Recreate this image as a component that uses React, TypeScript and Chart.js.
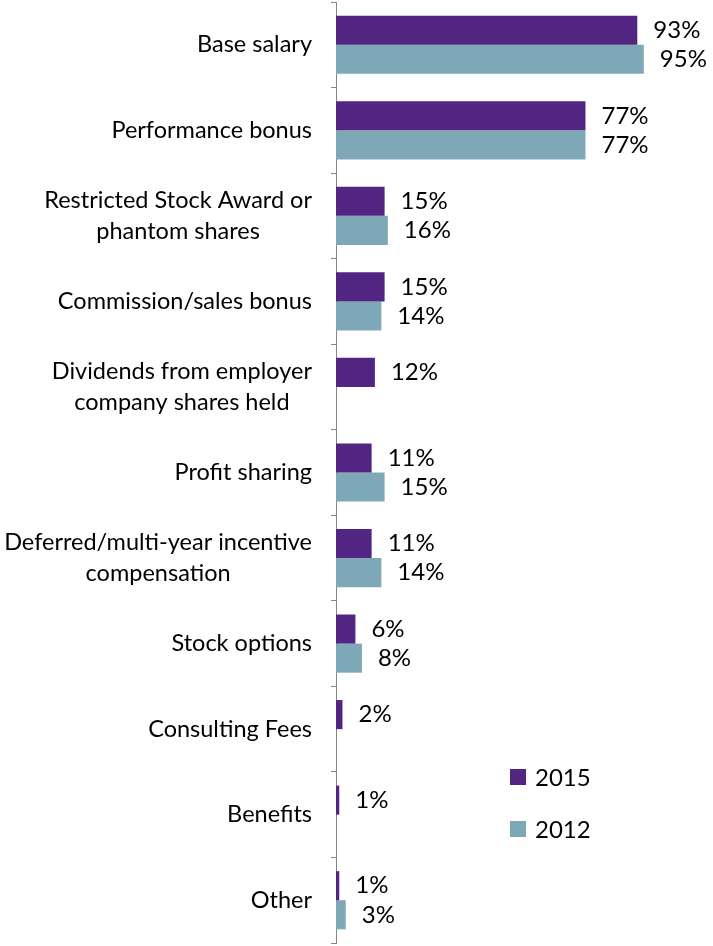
import React, { useEffect, useRef } from "react";
import { Chart, registerables } from "chart.js";

Chart.register(...registerables);

const categories: string[][] = [
  ["Base salary"],
  ["Performance bonus"],
  ["Restricted Stock Award or", "phantom shares"],
  ["Commission/sales bonus"],
  ["Dividends from employer", "company shares held"],
  ["Profit sharing"],
  ["Deferred/multi-year incentive", "compensation"],
  ["Stock options"],
  ["Consulting Fees"],
  ["Benefits"],
  ["Other"],
];
const values2015: (number | null)[] = [93, 77, 15, 15, 12, 11, 11, 6, 2, 1, 1];
const values2012: (number | null)[] = [95, 77, 16, 14, null, 15, 14, 8, null, null, 3];
const seriesNames = ["2015", "2012"];
const seriesColors = ["#522583", "#7EA8B8"];
const axisMax = 100;

const FONT_FAMILY = "Lato, 'Noto Sans', sans-serif";
const CAT_FONT = `23.5px ${FONT_FAMILY}`;
const VAL_FONT = `24px ${FONT_FAMILY}`;

const labelPlugin = {
  id: "customLabels",
  afterDraw(chart: any) {
    const ctx = chart.ctx;
    const yScale = chart.scales.y;
    ctx.save();
    ctx.fillStyle = "#000";
    // category labels
    ctx.font = CAT_FONT;
    ctx.textBaseline = "middle";
    ctx.textAlign = "center";
    const rightEdge = yScale.right - 24;
    const lineH = 31;
    categories.forEach((lines, i) => {
      const y = yScale.getPixelForValue(i);
      const maxW = Math.max(...lines.map((l) => ctx.measureText(l).width));
      const cx = rightEdge - maxW / 2;
      lines.forEach((l, j) => {
        ctx.fillText(l, cx, y - ((lines.length - 1) * lineH) / 2 + j * lineH);
      });
    });
    // value labels
    ctx.font = VAL_FONT;
    ctx.textAlign = "left";
    chart.data.datasets.forEach((ds: any, di: number) => {
      const meta = chart.getDatasetMeta(di);
      meta.data.forEach((el: any, i: number) => {
        const v = ds.data[i];
        if (v === null || v === undefined) return;
        ctx.fillText(`${v}%`, el.x + 16, el.y);
      });
    });
    // legend
    const legendX = 510;
    const legendY = [777, 829];
    seriesNames.forEach((name, i) => {
      ctx.fillStyle = seriesColors[i];
      ctx.fillRect(legendX, legendY[i] - 8, 16, 16);
      ctx.fillStyle = "#000";
      ctx.fillText(name, legendX + 25, legendY[i] + 1);
    });
    ctx.restore();
  },
};

export default function App() {
  const ref = useRef<HTMLCanvasElement>(null);
  useEffect(() => {
    if (!ref.current) return;
    const chart = new Chart(ref.current, {
      type: "bar",
      data: {
        labels: categories.map((c) => c.join(" ")),
        datasets: [
          {
            label: seriesNames[0],
            data: values2015,
            backgroundColor: seriesColors[0],
            categoryPercentage: 0.68,
            barPercentage: 1,
          },
          {
            label: seriesNames[1],
            data: values2012,
            backgroundColor: seriesColors[1],
            categoryPercentage: 0.68,
            barPercentage: 1,
          },
        ] as any,
      },
      options: {
        indexAxis: "y",
        responsive: false,
        animation: false,
        layout: { padding: { top: 2, right: 53, bottom: 3, left: 0 } },
        plugins: { legend: { display: false }, tooltip: { enabled: false } },
        scales: {
          x: { display: false, min: 0, max: axisMax },
          y: {
            afterFit: (s: any) => {
              s.width = 336;
            },
            ticks: { display: false },
            grid: {
              drawOnChartArea: false,
              drawTicks: true,
              tickLength: 5,
              color: "#868686",
              offset: true,
            },
            border: { color: "#868686", width: 1 },
          },
        },
      },
      plugins: [labelPlugin],
    });
    return () => chart.destroy();
  }, []);
  return (
    <div style={{ position: "fixed", left: 0, top: 0, width: 713, height: 946, background: "#fff" }}>
      <canvas ref={ref} width={713} height={946} style={{ display: "block" }} />
    </div>
  );
}
